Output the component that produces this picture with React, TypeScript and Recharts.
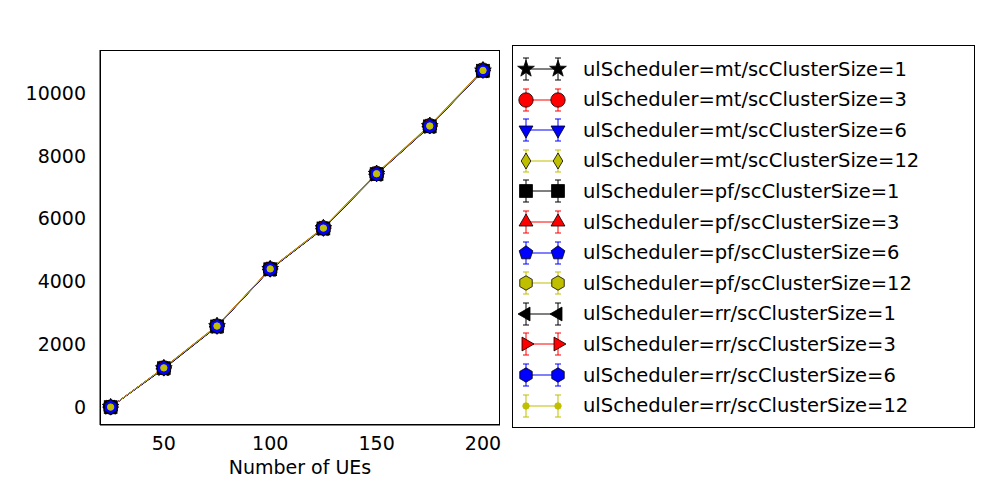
import { LineChart, Line, XAxis, YAxis } from "recharts";

const ues = [25, 50, 75, 100, 125, 150, 175, 200];

const mt1 = [0, 1230, 2570, 4390, 5690, 7420, 8940, 10710];
const mt3 = [0, 1250, 2580, 4400, 5700, 7440, 8960, 10730];
const mt6 = [0, 1240, 2570, 4390, 5690, 7430, 8950, 10720];
const mt12 = [0, 1260, 2600, 4410, 5720, 7450, 8980, 10750];
const pf1 = [0, 1240, 2570, 4390, 5690, 7420, 8940, 10710];
const pf3 = [0, 1250, 2590, 4400, 5710, 7440, 8960, 10730];
const pf6 = [0, 1240, 2580, 4390, 5700, 7430, 8950, 10720];
const pf12 = [0, 1250, 2590, 4400, 5710, 7440, 8960, 10730];
const rr1 = [0, 1220, 2560, 4380, 5680, 7410, 8930, 10700];
const rr3 = [0, 1250, 2580, 4400, 5700, 7430, 8950, 10720];
const rr6 = [0, 1240, 2570, 4390, 5690, 7420, 8940, 10710];
const rr12 = [0, 1250, 2580, 4400, 5700, 7430, 8950, 10720];

const Y = "#bfbf00";

type Shape = "star" | "circle" | "tdown" | "diamond" | "square" | "tup" | "pent" | "hex" | "tleft" | "tright" | "point";

const series: { key: string; name: string; values: number[]; color: string; shape: Shape }[] = [
  { key: "mt1", name: "ulScheduler=mt/scClusterSize=1", values: mt1, color: "#000000", shape: "star" },
  { key: "mt3", name: "ulScheduler=mt/scClusterSize=3", values: mt3, color: "#ff0000", shape: "circle" },
  { key: "mt6", name: "ulScheduler=mt/scClusterSize=6", values: mt6, color: "#0000ff", shape: "tdown" },
  { key: "mt12", name: "ulScheduler=mt/scClusterSize=12", values: mt12, color: Y, shape: "diamond" },
  { key: "pf1", name: "ulScheduler=pf/scClusterSize=1", values: pf1, color: "#000000", shape: "square" },
  { key: "pf3", name: "ulScheduler=pf/scClusterSize=3", values: pf3, color: "#ff0000", shape: "tup" },
  { key: "pf6", name: "ulScheduler=pf/scClusterSize=6", values: pf6, color: "#0000ff", shape: "pent" },
  { key: "pf12", name: "ulScheduler=pf/scClusterSize=12", values: pf12, color: Y, shape: "hex" },
  { key: "rr1", name: "ulScheduler=rr/scClusterSize=1", values: rr1, color: "#000000", shape: "tleft" },
  { key: "rr3", name: "ulScheduler=rr/scClusterSize=3", values: rr3, color: "#ff0000", shape: "tright" },
  { key: "rr6", name: "ulScheduler=rr/scClusterSize=6", values: rr6, color: "#0000ff", shape: "hex" },
  { key: "rr12", name: "ulScheduler=rr/scClusterSize=12", values: rr12, color: Y, shape: "point" },
];

const data = ues.map((u, i) => {
  const row: Record<string, number> = { ues: u };
  series.forEach((s) => (row[s.key] = s.values[i]));
  return row;
});

function poly(cx: number, cy: number, r: number, n: number, rot: number) {
  const pts: string[] = [];
  for (let i = 0; i < n; i++) {
    const a = rot + (i * 2 * Math.PI) / n;
    pts.push(`${cx + r * Math.cos(a)},${cy + r * Math.sin(a)}`);
  }
  return pts.join(" ");
}

function starPts(cx: number, cy: number, r: number) {
  const pts: string[] = [];
  for (let i = 0; i < 10; i++) {
    const a = -Math.PI / 2 + (i * Math.PI) / 5;
    const rr = i % 2 === 0 ? r : r * 0.4;
    pts.push(`${cx + rr * Math.cos(a)},${cy + rr * Math.sin(a)}`);
  }
  return pts.join(" ");
}

function Marker({ cx, cy, shape, color, r = 8 }: { cx: number; cy: number; shape: Shape; color: string; r?: number }) {
  const p = { fill: color, stroke: "#000", strokeWidth: 0.8 };
  switch (shape) {
    case "circle":
      return <circle cx={cx} cy={cy} r={r * 0.9} {...p} />;
    case "square":
      return <rect x={cx - r * 0.8} y={cy - r * 0.8} width={r * 1.6} height={r * 1.6} {...p} />;
    case "star":
      return <polygon points={starPts(cx, cy, r * 1.1)} {...p} />;
    case "tdown":
      return <polygon points={poly(cx, cy, r, 3, Math.PI / 2)} {...p} />;
    case "tup":
      return <polygon points={poly(cx, cy, r, 3, -Math.PI / 2)} {...p} />;
    case "tleft":
      return <polygon points={poly(cx, cy, r, 3, Math.PI)} {...p} />;
    case "tright":
      return <polygon points={poly(cx, cy, r, 3, 0)} {...p} />;
    case "diamond":
      return <polygon points={`${cx},${cy - r} ${cx + r * 0.6},${cy} ${cx},${cy + r} ${cx - r * 0.6},${cy}`} {...p} />;
    case "pent":
      return <polygon points={poly(cx, cy, r * 0.9, 5, -Math.PI / 2)} {...p} />;
    case "hex":
      return <polygon points={poly(cx, cy, r * 0.9, 6, -Math.PI / 2)} {...p} />;
    default:
      return <circle cx={cx} cy={cy} r={r * 0.4} fill={color} stroke={color} />;
  }
}

const font = "'DejaVu Sans', sans-serif";

export default function App() {
  return (
    <div style={{ position: "absolute", left: 0, top: 0, width: 1000, height: 500, background: "#fff", fontFamily: font }}>
      <LineChart width={1000} height={500} data={data} margin={{ top: 50, right: 500, bottom: 0, left: 0 }}>
        <XAxis
          dataKey="ues"
          type="number"
          domain={[20, 208]}
          ticks={[50, 100, 150, 200]}
          tickLine={false}
          tickMargin={6}
          height={75}
          stroke="#000"
          tick={{ fill: "#000", fontSize: 19, fontFamily: font }}
          label={{ value: "Number of UEs", position: "insideBottom", offset: 26, fill: "#000", fontSize: 19, fontFamily: font }}
        />
        <YAxis
          type="number"
          domain={[-570, 11370]}
          ticks={[0, 2000, 4000, 6000, 8000, 10000]}
          tickLine={false}
          tickMargin={8}
          width={100}
          stroke="#000"
          tick={{ fill: "#000", fontSize: 19, fontFamily: font }}
        />
        {series.map((s) => (
          <Line
            key={s.key}
            dataKey={s.key}
            stroke={s.color}
            strokeWidth={1}
            isAnimationActive={false}
            dot={(d: any) => <Marker key={`${s.key}-${d.index}`} cx={d.cx} cy={d.cy} shape={s.shape} color={s.color} />}
            activeDot={false}
          />
        ))}
      </LineChart>
      <div style={{ position: "absolute", left: 100, top: 50, width: 400, height: 375, border: "1px solid #000", boxSizing: "border-box", pointerEvents: "none" }} />
      <div style={{ position: "absolute", left: 512, top: 45, width: 463, height: 383, border: "1px solid #000", boxSizing: "border-box", background: "#fff" }}>
        {series.map((s, i) => (
          <div key={s.key} style={{ position: "absolute", left: 0, top: 8 + i * 30.6, height: 30, display: "flex", alignItems: "center" }}>
            <svg width={68} height={30}>
              <line x1={13} y1={15} x2={45} y2={15} stroke={s.color} strokeWidth={1} />
              {[13, 45].map((x) => (
                <g key={x}>
                  <line x1={x} y1={4} x2={x} y2={26} stroke={s.color} />
                  <line x1={x - 3} y1={4} x2={x + 3} y2={4} stroke={s.color} />
                  <line x1={x - 3} y1={26} x2={x + 3} y2={26} stroke={s.color} />
                  <Marker cx={x} cy={15} shape={s.shape} color={s.color} />
                </g>
              ))}
            </svg>
            <span style={{ fontSize: 19.5, marginLeft: 2, whiteSpace: "nowrap" }}>{s.name}</span>
          </div>
        ))}
      </div>
    </div>
  );
}
